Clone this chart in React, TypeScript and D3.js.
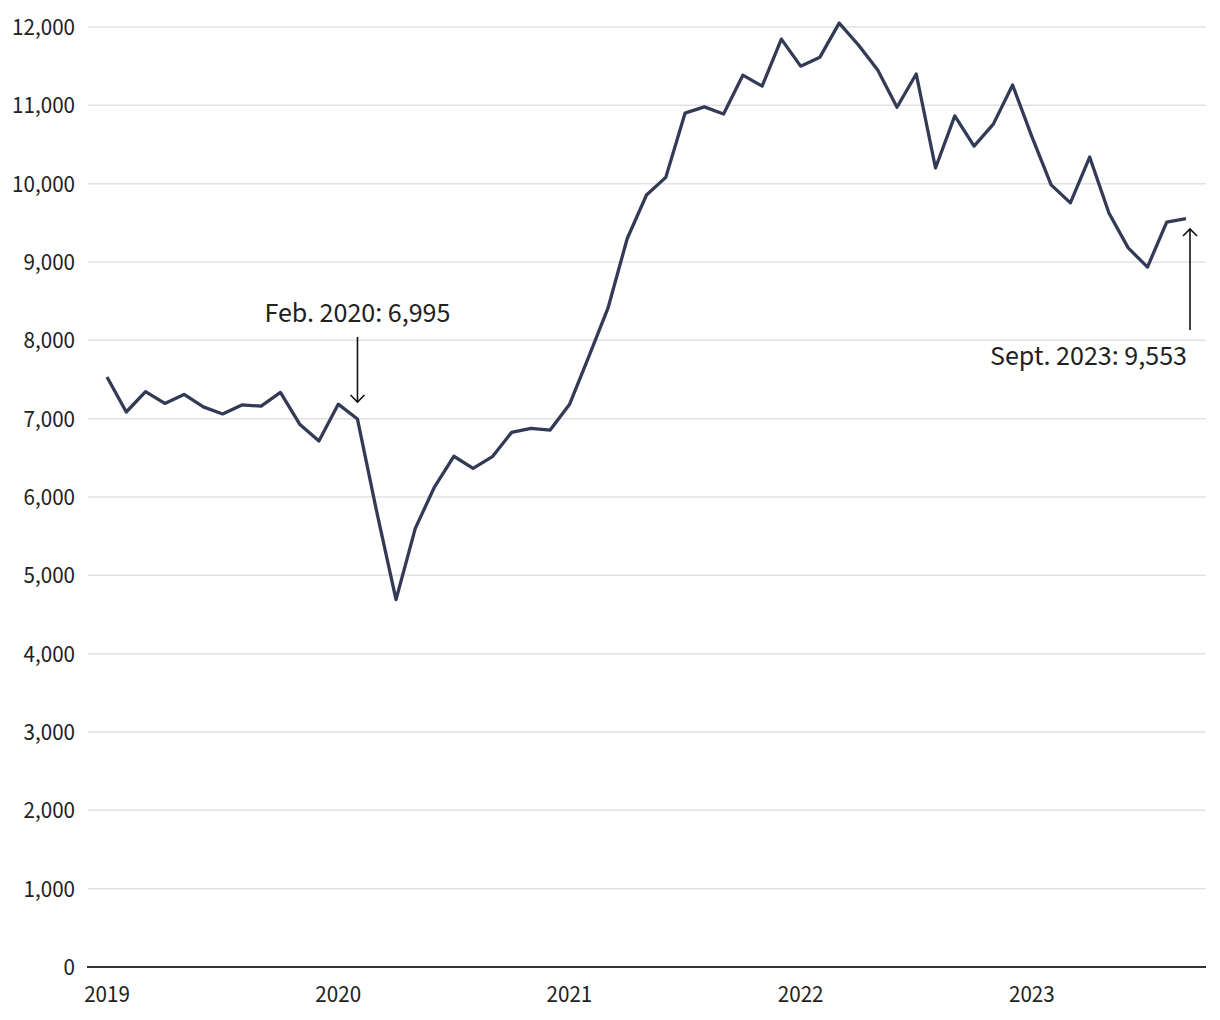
import React from "react";
import * as d3 from "d3";

const startYear = 2019;
const values: number[] = [
  7532, 7085, 7345, 7195, 7310, 7150, 7060, 7175, 7160, 7335, 6930, 6715,
  7185, 6995, 5810, 4690, 5600, 6130, 6520, 6365, 6515, 6825, 6875, 6855,
  7180, 7790, 8410, 9300, 9855, 10080, 10900, 10980, 10890, 11385, 11245, 11845,
  11500, 11615, 12050, 11770, 11450, 10975, 11400, 10200, 10865, 10480, 10760, 11260,
  10600, 9985, 9755, 10340, 9625, 9180, 8935, 9510, 9553,
];
const yTicks: number[] = [0, 1000, 2000, 3000, 4000, 5000, 6000, 7000, 8000, 9000, 10000, 11000, 12000];
const yearTicks: number[] = [2019, 2020, 2021, 2022, 2023];
const annotations = [
  { index: 13, label: "Feb. 2020: 6,995", dir: "down" },
  { index: 56, label: "Sept. 2023: 9,553", dir: "up" },
];

export default function App() {
  const W = 1220, H = 1020;
  const x = d3.scaleLinear().domain([0, values.length - 1]).range([107, 1186]);
  const y = d3.scaleLinear().domain([0, 12000]).range([967, 27]);
  const fmt = d3.format(",");
  const line = d3
    .line<number>()
    .x((_, i) => x(i))
    .y((d) => y(d));
  const font = "'Source Sans Pro', 'Source Sans 3', Lato, sans-serif";
  const a0 = annotations[0];
  const a1 = annotations[1];
  const ax0 = x(a0.index);
  const ax1 = x(a1.index) + 4;
  return (
    <svg width={W} height={H} style={{ position: "absolute", left: 0, top: 0 }} fontFamily={font}>
      <rect width={W} height={H} fill="#fff" />
      {yTicks.map((t) => (
        <g key={t}>
          {t > 0 && <line x1={88} x2={1206} y1={y(t)} y2={y(t)} stroke="#e2e2e2" strokeWidth={1.5} />}
          <text x={75} y={y(t)} dy="0.35em" textAnchor="end" fontSize={23} fill="#222">
            {fmt(t)}
          </text>
        </g>
      ))}
      <line x1={87} x2={1206} y1={y(0)} y2={y(0)} stroke="#333" strokeWidth={2} />
      {yearTicks.map((yr) => (
        <text key={yr} x={x((yr - startYear) * 12)} y={1002} textAnchor="middle" fontSize={23} fill="#222">
          {yr}
        </text>
      ))}
      <path d={line(values) || ""} fill="none" stroke="#333a56" strokeWidth={3.3} strokeLinejoin="round" />
      {/* annotation 1 */}
      <text x={ax0} y={322} textAnchor="middle" fontSize={28} fill="#222">
        {a0.label}
      </text>
      <line x1={ax0} x2={ax0} y1={337} y2={402} stroke="#111" strokeWidth={1.6} />
      <path d={`M${ax0 - 7},${395} L${ax0},${402} L${ax0 + 7},${395}`} fill="none" stroke="#111" strokeWidth={1.6} />
      {/* annotation 2 */}
      <text x={1187} y={365} textAnchor="end" fontSize={28} fill="#222">
        {a1.label}
      </text>
      <line x1={ax1} x2={ax1} y1={330} y2={229} stroke="#111" strokeWidth={1.6} />
      <path d={`M${ax1 - 7},${236} L${ax1},${229} L${ax1 + 7},${236}`} fill="none" stroke="#111" strokeWidth={1.6} />
    </svg>
  );
}
